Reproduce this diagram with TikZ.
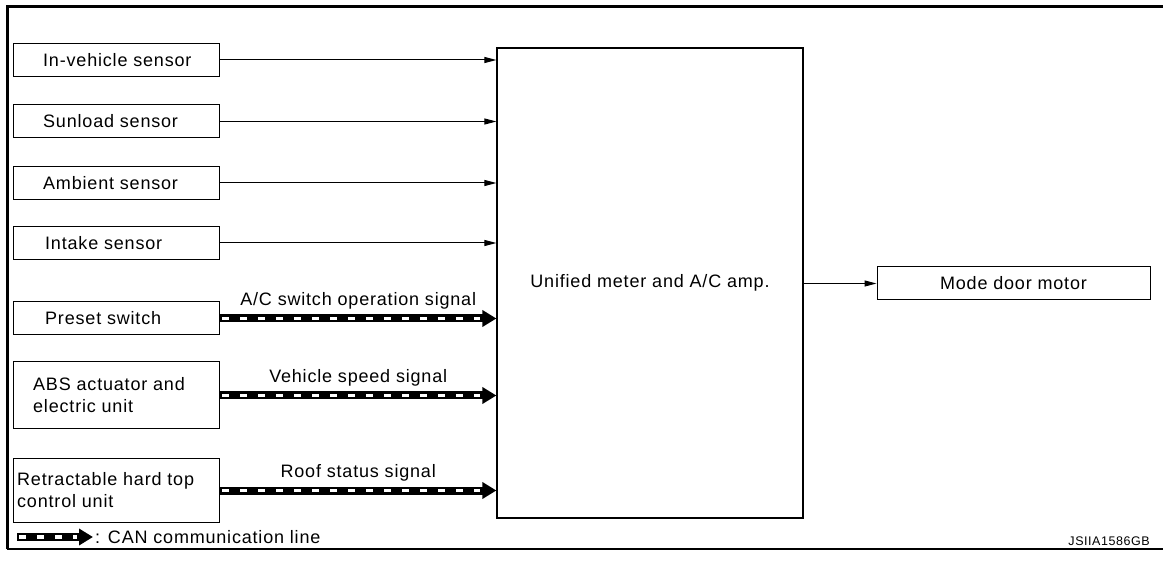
\documentclass[tikz,border=0pt]{standalone}
\usepackage{fontspec}
\setmainfont{Liberation Sans}[LetterSpace=4.5]
\usetikzlibrary{arrows.meta}
\tikzset{
  lbox/.style={draw, line width=1pt, minimum width=206pt, minimum height=33pt, anchor=west, inner sep=0pt},
  ltext/.style={anchor=west, align=left, inner sep=0pt, font=\fontsize{18}{22}\selectfont},
  sigline/.style={line width=1pt, -{Triangle[length=12pt,width=6pt]}},
  canline/.style={line width=8pt, -{Triangle[length=14pt,width=16pt]},
     postaction={draw=white, line width=3.5pt, dash pattern=on 7pt off 11pt, dash phase=-2pt, shorten >=16pt, -}},
  siglabel/.style={midway, above=5pt, inner sep=0pt, font=\fontsize{18}{22}\selectfont}
}
\begin{document}
\begin{tikzpicture}[x=1pt,y=-1pt]
\useasboundingbox (0,0) rectangle (1163,561);
% frame
\draw[line width=3pt] (7,549) -- (7,7) -- (1163,7);
\draw[line width=1.2pt] (7,549) -- (1163,549);

% left boxes
\node[lbox] (inveh) at (13,60) {};
\node[ltext] at (43,60) {In-vehicle sensor};
\node[lbox] (sun) at (13,121.5) {};
\node[ltext] at (43,121.5) {Sunload sensor};
\node[lbox] (amb) at (13,183) {};
\node[ltext] at (43,183) {Ambient sensor};
\node[lbox] (intk) at (13,243) {};
\node[ltext] at (45,243) {Intake sensor};
\node[lbox] (preset) at (13,318.5) {};
\node[ltext] at (45,318.5) {Preset switch};
\node[lbox, minimum height=67pt] (abs) at (13,395.5) {};
\node[ltext] at (33,395.5) {ABS actuator and\\electric unit};
\node[lbox, minimum height=63pt] (roof) at (13,490.5) {};
\node[ltext] at (17,490.5) {Retractable hard top\\control unit};

% main unit
\node[draw, line width=1.2pt, minimum width=306pt, minimum height=470pt, inner sep=0pt,
      font=\fontsize{18}{22}\selectfont] (amp) at (650,283) {Unified meter and A/C amp.};

% mode door motor
\node[draw, line width=1pt, minimum width=273pt, minimum height=33pt, inner sep=0pt,
      font=\fontsize{18}{22}\selectfont] (mode) at (1013.5,283.5) {Mode door motor};

% connectors
\draw[sigline] (inveh.east) -- (amp.west |- inveh.east);
\draw[sigline] (sun.east) -- (amp.west |- sun.east);
\draw[sigline] (amb.east) -- (amp.west |- amb.east);
\draw[sigline] (intk.east) -- (amp.west |- intk.east);
\draw[sigline] (amp.east |- mode.west) -- (mode.west);

\draw[canline] (preset.east) -- (amp.west |- preset.east) node[siglabel] {A/C switch operation signal};
\draw[canline] (abs.east) -- (amp.west |- abs.east) node[siglabel] {Vehicle speed signal};
\draw[canline] (roof.east) -- (amp.west |- roof.east) node[siglabel] {Roof status signal};

% legend
\coordinate (lg1) at (17,537);
\coordinate (lg2) at (93,537);
\draw[canline] (lg1) -- (lg2);
\node[anchor=west, inner sep=0pt, font=\fontsize{18}{22}\selectfont] (lgtext) at (95,537) {: CAN communication line};

\node[anchor=east, inner sep=0pt, font=\fontsize{12.5}{15}\selectfont] (code) at (1150,541) {JSIIA1586GB};
\end{tikzpicture}
\end{document}
